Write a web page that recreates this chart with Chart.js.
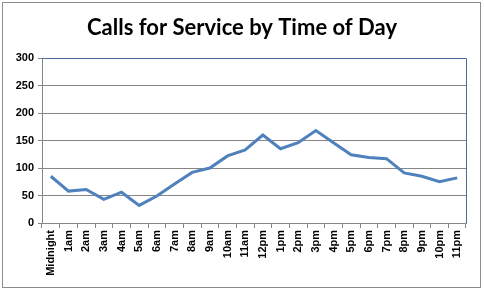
<!DOCTYPE html>
<html><head><meta charset="utf-8">
<script src="https://cdn.jsdelivr.net/npm/chart.js@4"></script>
<style>html,body{margin:0;padding:0;background:#fff}#w{width:484px;height:291px}</style>
</head><body><div id="w"><canvas id="c"></canvas></div>
<script>
const categories = ["Midnight","1am","2am","3am","4am","5am","6am","7am","8am","9am","10am","11am","12pm","1pm","2pm","3pm","4pm","5pm","6pm","7pm","8pm","9pm","10pm","11pm"];
const calls = [85,58,61,43,56,32,49,71,92,100,122,133,160,135,146,168,146,124,119,117,91,85,75,82];
const yTicks = [0,50,100,150,200,250,300];
const chartTitle = 'Calls for Service by Time of Day';

const frame = {
  id:'frame',
  afterDraw(ch){
    const c=ch.ctx, a=ch.chartArea;
    c.save();
    c.strokeStyle='#8c8c8c'; c.lineWidth=1;
    c.strokeRect(2.5,2.5,478,285);
    c.strokeStyle='#4a6a9c';
    c.beginPath();
    c.moveTo(a.left,a.top+0.5); c.lineTo(a.right+0.5,a.top+0.5); c.lineTo(a.right+0.5,a.bottom);
    c.stroke();
    c.fillStyle='#000';
    c.font='bold 22px Lato, "Open Sans", sans-serif';
    c.textAlign='center'; c.textBaseline='middle';
    c.fillText(chartTitle, 242, 28);
    c.restore();
  }
};

new Chart(document.getElementById('c'),{
  type:'line',
  data:{labels:categories,datasets:[{data:calls,borderColor:'#4F81BD',borderWidth:3,pointRadius:0,tension:0,fill:false}]},
  options:{
    responsive:true,maintainAspectRatio:false,animation:false,
    layout:{padding:{left:0,right:18,top:58,bottom:3}},
    plugins:{legend:{display:false},tooltip:{enabled:false},title:{display:false}},
    scales:{
      x:{offset:true,
        grid:{offset:true,drawOnChartArea:false,color:'#868686',tickLength:5,tickColor:'#868686'},
        border:{color:'#868686'},
        ticks:{autoSkip:false,minRotation:90,maxRotation:90,color:'#000',padding:2,
          font:{family:'Liberation Sans, Arial, sans-serif',size:11,weight:'bold'}},
        afterFit(s){s.height=65;}
      },
      y:{min:0,max:300,
        afterBuildTicks(s){s.ticks=yTicks.map(v=>({value:v}));},
        grid:{color:'#868686',tickLength:4,tickColor:'#868686'},
        border:{color:'#868686'},
        ticks:{color:'#000',padding:4,font:{family:'Liberation Sans, Arial, sans-serif',size:11,weight:'bold'}},
        afterFit(s){s.width=42;}
      }
    }
  },
  plugins:[frame]
});
</script></body></html>
